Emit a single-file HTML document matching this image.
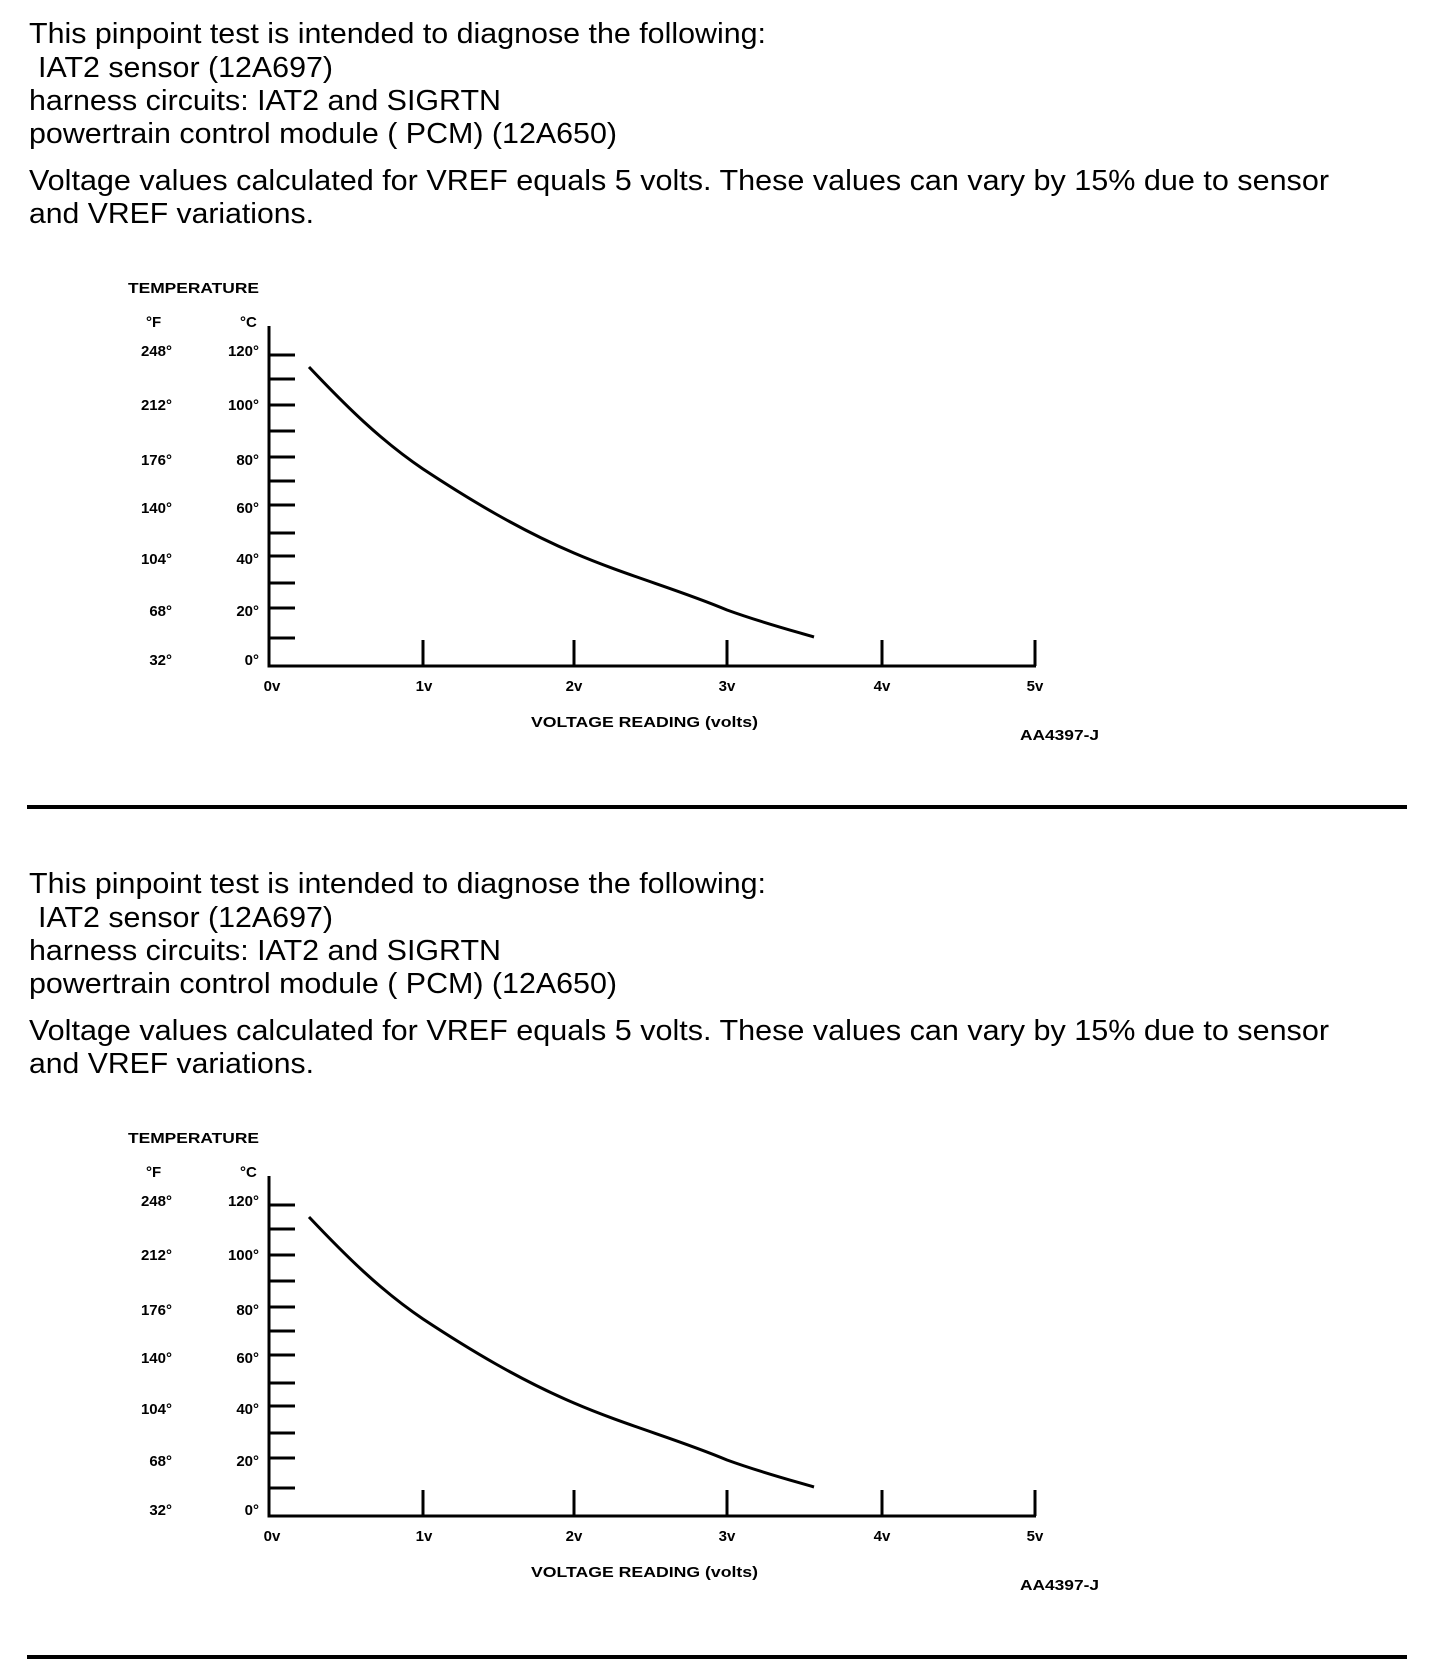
<!DOCTYPE html>
<html><head><meta charset="utf-8"><style>
html,body{margin:0;padding:0;background:#fff;}
svg{display:block;}
.t{font-family:"Liberation Sans",Arial,sans-serif;font-size:29px;fill:#000;}
.s{font-family:"Liberation Sans",Arial,sans-serif;font-size:15px;font-weight:bold;fill:#000;}
</style></head><body>
<svg width="1440" height="1672" viewBox="0 0 1440 1672" xmlns="http://www.w3.org/2000/svg">
<g id="blk">
<text class="t" x="29" y="43" textLength="737" lengthAdjust="spacingAndGlyphs">This pinpoint test is intended to diagnose the following:</text>
<text class="t" x="38" y="77" textLength="295" lengthAdjust="spacingAndGlyphs">IAT2 sensor (12A697)</text>
<text class="t" x="29" y="110" textLength="472" lengthAdjust="spacingAndGlyphs">harness circuits: IAT2 and SIGRTN</text>
<text class="t" x="29" y="143" textLength="588" lengthAdjust="spacingAndGlyphs">powertrain control module ( PCM) (12A650)</text>
<text class="t" x="29" y="190" textLength="1300" lengthAdjust="spacingAndGlyphs">Voltage values calculated for VREF equals 5 volts. These values can vary by 15% due to sensor</text>
<text class="t" x="29" y="223" textLength="285" lengthAdjust="spacingAndGlyphs">and VREF variations.</text>

<text class="s" x="128" y="293" textLength="131" lengthAdjust="spacingAndGlyphs">TEMPERATURE</text>
<text class="s" x="146" y="327">°F</text>
<text class="s" x="240" y="327">°C</text>
<g class="s" text-anchor="end">
<text x="172" y="356">248°</text><text x="259" y="356">120°</text>
<text x="172" y="410">212°</text><text x="259" y="410">100°</text>
<text x="172" y="465">176°</text><text x="259" y="465">80°</text>
<text x="172" y="513">140°</text><text x="259" y="513">60°</text>
<text x="172" y="564">104°</text><text x="259" y="564">40°</text>
<text x="172" y="616">68°</text><text x="259" y="616">20°</text>
<text x="172" y="665">32°</text><text x="259" y="665">0°</text>
</g>
<g stroke="#000" stroke-width="3" fill="none">
<path d="M269 326 V666 H1036"/>
<path d="M269 355H295M269 379H295M269 405H295M269 431H295M269 457H295M269 481H295M269 505H295M269 533H295M269 556H295M269 583H295M269 608H295M269 638H295"/>
<path d="M423 640V666M574 640V666M727 640V666M882 640V666M1035 640V666"/>
<path d="M309 367 C345 405, 380 440, 423 469 C470 500, 520 530, 574 553 C625 575, 680 590, 727 610 C760 622, 790 630, 814 637" stroke-width="3"/>
</g>
<g class="s" text-anchor="middle">
<text x="272" y="691">0v</text><text x="424" y="691">1v</text><text x="574" y="691">2v</text>
<text x="727" y="691">3v</text><text x="882" y="691">4v</text><text x="1035" y="691">5v</text>
</g>
<text class="s" x="531" y="727" textLength="227" lengthAdjust="spacingAndGlyphs">VOLTAGE READING (volts)</text>
<text class="s" x="1020" y="740" textLength="79" lengthAdjust="spacingAndGlyphs">AA4397-J</text>
<rect x="27" y="805" width="1380" height="4" fill="#000"/>
</g>
<use href="#blk" transform="translate(0,850)"/>
</svg>
</body></html>
